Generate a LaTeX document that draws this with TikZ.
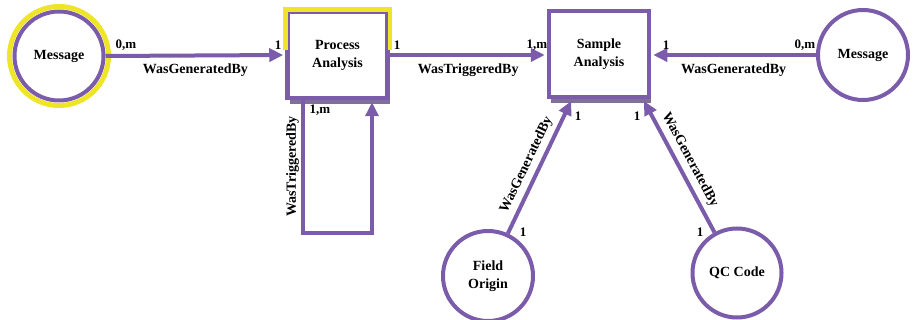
\documentclass[tikz,border=0pt]{standalone}
\usepackage{fontspec}
\setmainfont{Liberation Serif}
\usetikzlibrary{arrows.meta,shadows,calc}
\definecolor{pur}{RGB}{122,92,170}
\definecolor{yel}{RGB}{238,228,40}
\begin{document}
\begin{tikzpicture}[x=1pt,y=-1pt,
 every node/.style={font=\fontsize{14}{18}\selectfont\bfseries, text=black},
 entity/.style={draw=pur, line width=4.5pt, fill=white, minimum width=100pt, minimum height=86pt, align=center,
   drop shadow={shadow xshift=2pt, shadow yshift=-6pt, opacity=0.75, fill=pur!70!black}},
 ent/.style={circle, draw=pur, line width=4pt, fill=white, minimum size=88pt, align=center, inner sep=0pt},
 link/.style={draw=pur, line width=4pt, -{Triangle[length=14pt,width=13pt]}, shorten >=2pt},
 card/.style={inner sep=1pt, font=\fontsize{13}{14}\selectfont\bfseries}]
\useasboundingbox (0,0) rectangle (918,320);
% nodes
\node[entity] (pa) at (337.5,55) {Process\\Analysis};
\draw[yel, line width=4.5pt, line join=miter] ([yshift=5pt]pa.west) -- (pa.north west) -- (pa.north east) -- ([yshift=5pt]pa.east);
\node[entity] (sa) at (599,54) {Sample\\Analysis};
\node[ent, minimum size=89pt] (m1) at (59,56) {Message};
\draw[yel, line width=5pt] (m1.center) circle[radius=49.5pt];
\node[ent, minimum size=90pt] (m2) at (863,55) {Message};
\node[ent, minimum size=90pt] (fo) at (488,276) {Field\\Origin};
\node[ent, minimum size=89pt] (qc) at (737,273) {QC Code};
% loop corners
\coordinate (l1) at (303,233);
\coordinate (l2) at (372,233);
% connectors
\draw[link] (m1.east) -- node[midway, below=3pt] (t1) {WasGeneratedBy} (pa.west);
\draw[link] (pa.east) -- node[midway, below=3pt] (t2) {WasTriggeredBy} (pa.east -| sa.west);
\draw[link] (m2.west) -- node[midway, below=3pt] (t3) {WasGeneratedBy} (m2.west -| sa.east);
\draw[link] (fo.65) -- node[pos=0.47, sloped, above=1pt] (t4) {WasGeneratedBy} ($(sa.south)+(-27,0)$);
\draw[link] (qc.119) -- node[pos=0.5, sloped, above=1pt] (t5) {WasGeneratedBy} ($(sa.south)+(44,0)$);
\draw[link] (pa.south -| l1) -- node[midway, rotate=90, anchor=south, inner sep=2pt] (t6) {WasTriggeredBy} (l1) -- (l2) -- (pa.south -| l2);
% cardinalities
\node[card] (c1) at (126,45) {0,m};
\node[card] (c2) at (278,45) {1};
\node[card] (c3) at (397,45) {1};
\node[card] (c4) at (537,45) {1,m};
\node[card] (c5) at (666,45) {1};
\node[card] (c6) at (805,45) {0,m};
\node[card] (c7) at (320,110) {1,m};
\node[card] (c8) at (578,116) {1};
\node[card] (c9) at (523,232) {1};
\node[card] (c10) at (637,116) {1};
\node[card] (c11) at (700,232) {1};
\end{tikzpicture}
\end{document}
